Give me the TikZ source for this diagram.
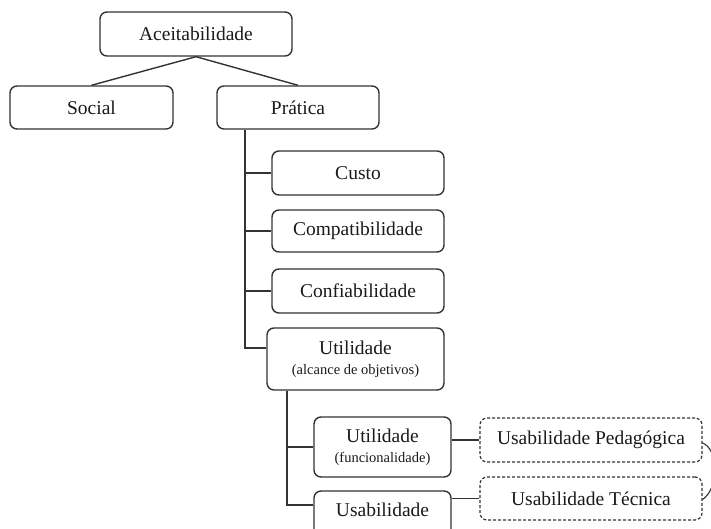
\documentclass[tikz,border=0pt]{standalone}
\usepackage{fontspec}
\setmainfont{Liberation Serif}
\definecolor{ln}{HTML}{333333}
\definecolor{tx}{HTML}{1A1A1A}
\begin{document}
\begin{tikzpicture}[x=1pt,y=-1pt,
  box/.style={draw=ln, line width=1.4pt, rounded corners=7pt, fill=white, text=tx,
    align=center, inner sep=0pt, font=\fontsize{19.5}{22}\selectfont},
  dbox/.style={box, dash pattern=on 3pt off 2pt, line width=1.2pt},
  con/.style={draw=ln, line width=1.4pt}]
\useasboundingbox (0,0) rectangle (711,529);
\clip (0,0) rectangle (711,529);
\fill[white] (0,0) rectangle (711,529);

\node[box, minimum width=192pt, minimum height=44pt] (acc) at (196,34) {Aceitabilidade};
\node[box, minimum width=163pt, minimum height=43pt] (soc) at (91.5,107.5) {Social};
\node[box, minimum width=162pt, minimum height=43pt] (pra) at (298,107.5) {Prática};

\node[box, minimum width=172pt, minimum height=44pt] (custo) at (358,173) {Custo};
\node[box, minimum width=172pt, minimum height=42pt] (compat) at (358,231) {Compatibilidade};
\node[box, minimum width=172pt, minimum height=44pt] (conf) at (358,291) {Confiabilidade};
\node[box, minimum width=177pt, minimum height=62pt] (util) at (355.5,359) {Utilidade\\[-2pt]{\fontsize{14.5}{16}\selectfont(alcance de objetivos)}};

\node[box, minimum width=137pt, minimum height=60pt] (utilf) at (382.5,447) {Utilidade\\[-2pt]{\fontsize{14.5}{16}\selectfont(funcionalidade)}};
\node[box, minimum width=137pt, minimum height=60pt] (usab) at (382.5,521) {Usabilidade\\[-2pt]{\fontsize{14.5}{16}\selectfont\phantom{(funcionalidade)}}};

\node[dbox, minimum width=222pt, minimum height=44pt] (ped) at (591,440) {Usabilidade Pedagógica};
\node[dbox, minimum width=222pt, minimum height=43pt] (tec) at (591,498.5) {Usabilidade Técnica};

\coordinate (tr1) at (245,0);
\coordinate (tr2) at (287,0);

\draw[con] (acc.south) -- (soc.north);
\draw[con] (acc.south) -- (pra.north);

\draw[con] (tr1 |- pra.south) |- (custo.west);
\draw[con] (tr1 |- pra.south) |- (compat.west);
\draw[con] (tr1 |- pra.south) |- (conf.west);
\draw[con] (tr1 |- pra.south) |- ([yshift=11pt]util.west);

\draw[con] (tr2 |- util.south) |- (utilf.west);
\draw[con] (tr2 |- util.south) |- ([yshift=16pt]usab.west);

\draw[con] (utilf.east |- ped.west) -- (ped.west);
\draw[con] (usab.east |- tec.west) -- (tec.west);

\draw[con, line width=1.1pt] ([yshift=-3pt]ped.east) .. controls (710,446) and (714,455) .. (716,470);
\draw[con, line width=1.1pt] ([yshift=-1pt]tec.east) .. controls (710,494) and (714,485) .. (716,470);
\end{tikzpicture}
\end{document}
